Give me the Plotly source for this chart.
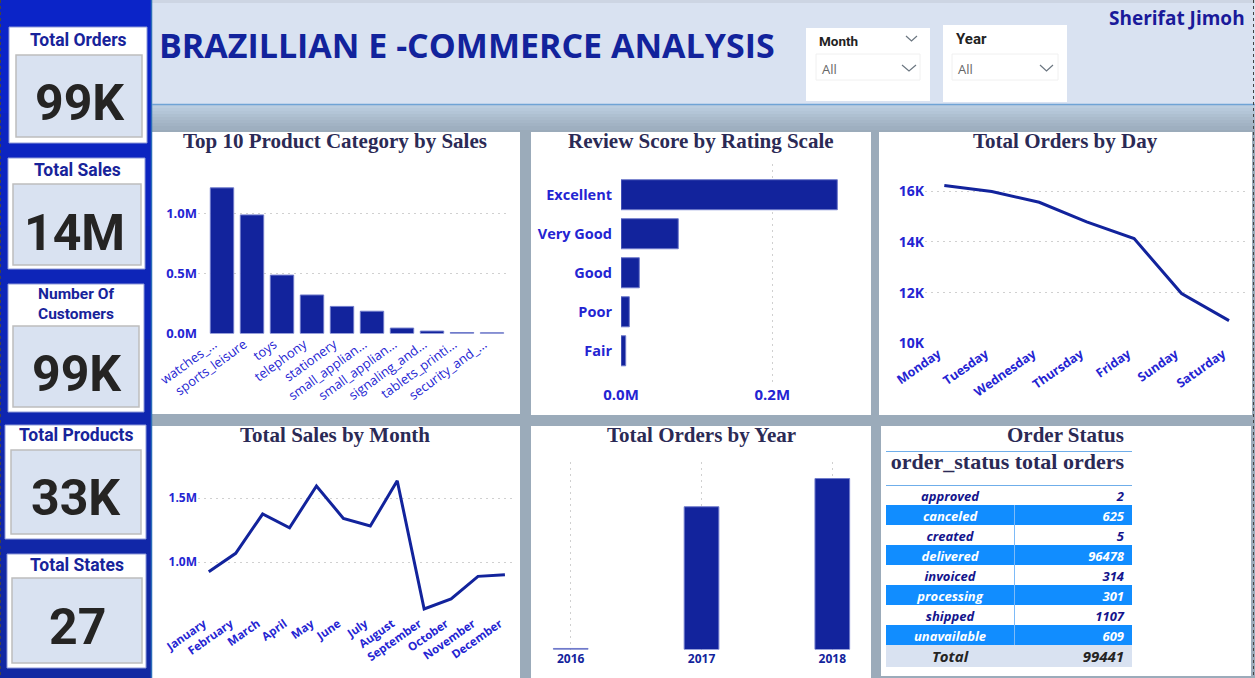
import plotly.graph_objects as go

W = 1255
H = 678

# data
kpi_titles = ["Total Orders", "Total Sales", "Number Of<br>Customers", "Total Products", "Total States"]
kpi_values = ["99K", "14M", "99K", "33K", "27"]

product_labels = ["watches_...", "sports_leisure", "toys", "telephony", "stationery", "small_applian...",
                  "small_applian...", "signaling_and...", "tablets_printi...", "security_and_..."]
product_sales = [1.21, 0.985, 0.485, 0.32, 0.225, 0.185, 0.045, 0.02, 0.008, 0.006]
product_ticks = [0, 0.5, 1.0]
product_tick_text = ["0.0M", "0.5M", "1.0M"]

rating_labels = ["Excellent", "Very Good", "Good", "Poor", "Fair"]
rating_scores = [0.286, 0.0757, 0.0242, 0.011, 0.0062]
rating_ticks = [0, 0.2]
rating_tick_text = ["0.0M", "0.2M"]

days = ["Monday", "Tuesday", "Wednesday", "Thursday", "Friday", "Sunday", "Saturday"]
day_orders = [16.22, 15.98, 15.56, 14.79, 14.13, 11.97, 10.90]
day_ticks = [10, 12, 14, 16]
day_tick_text = ["10K", "12K", "14K", "16K"]

months = ["January", "February", "March", "April", "May", "June", "July", "August",
          "September", "October", "November", "December"]
month_sales = [0.924, 1.068, 1.375, 1.268, 1.594, 1.341, 1.281, 1.635, 0.633, 0.711, 0.888, 0.901]
month_ticks = [1.0, 1.5]
month_tick_text = ["1.0M", "1.5M"]

years = ["2016", "2017", "2018"]
year_orders = [329, 45101, 54011]

status_names = ["approved", "canceled", "created", "delivered", "invoiced", "processing",
                "shipped", "unavailable"]
status_orders = [2, 625, 5, 96478, 314, 301, 1107, 609]
status_total = 99441

NAVY = "#12239C"
BAR_EDGE = "#6F7ACB"
TICK = "#2424D2"
TITLE = "#2B2A55"
PALE = "#D9E2F1"
CLEAR = "rgba(0,0,0,0)"
SANS = "Open Sans"
DIN = "Roboto"
SERIF = "Liberation Serif"


def X(px):
    return px / W


def Y(py):
    return 1 - py / H


shapes = []
notes = []


def rect(x0, y0, x1, y1, fill, line=None, width=1):
    shapes.append(dict(type="rect", xref="paper", yref="paper", x0=X(x0), x1=X(x1), y0=Y(y0), y1=Y(y1),
                       fillcolor=fill, line=dict(color=line or fill, width=width if line else 0), layer="below"))


def hline(x0, x1, y, color, width=1.5, dash="solid", layer="above"):
    shapes.append(dict(type="line", xref="paper", yref="paper", x0=X(x0), x1=X(x1), y0=Y(y), y1=Y(y),
                       line=dict(color=color, width=width, dash=dash), layer=layer))


def vline(x, y0, y1, color, width=1.5, dash="solid"):
    shapes.append(dict(type="line", xref="paper", yref="paper", x0=X(x), x1=X(x), y0=Y(y0), y1=Y(y1),
                       line=dict(color=color, width=width, dash=dash), layer="above"))


def chevron(x0, x1, y0, y1):
    path = f"M {X(x0)} {Y(y0)} L {X((x0 + x1) / 2)} {Y(y1)} L {X(x1)} {Y(y0)}"
    shapes.append(dict(type="path", xref="paper", yref="paper", path=path, line=dict(color="#6B7680", width=1.2)))


def text(x, y, s, size, color, family=SANS, bold=True, anchor="center", **kw):
    notes.append(dict(xref="paper", yref="paper", x=X(x), y=Y(y), text=s, showarrow=False, xanchor=anchor,
                      yanchor="middle", font=dict(family=family, size=size, color=color,
                                                  weight="bold" if bold else "normal"), **kw))


# page background, strips overlap so no seams show
rect(0, 0, W, H, "#9BABBA")
for i, c in enumerate(["#BBCDDF", "#B7C9DB", "#B3C5D7", "#AEC0D1", "#AABBCC", "#A6B7C8", "#A2B3C4", "#9EAFC0"]):
    rect(152, 105 + i * 3, W, 130, c)

# left band
for i, c in enumerate(["#0B24C8", "#0C24C0", "#0D25B8", "#0F26B0", "#1127A8", "#1228A2"]):
    rect(0, i * 113, 151, H, c)
vline(151.5, 0, H, "#2B6CB8", 1.5)

# header
rect(152, 0, W, 104, PALE)
rect(152, 0, W, 3, "#CDD5E3")
hline(152, W, 104.5, "#6FA3D5", 1.5)
text(157, 45, "BRAZILLIAN E -COMMERCE ANALYSIS", 34, NAVY, anchor="left")
text(1247, 18, "Sherifat Jimoh", 19, "#1A1A9A", anchor="right")

# slicers
rect(806, 28, 930, 101, "white")
rect(943, 25, 1067, 102, "white")
rect(816, 54, 920, 80, "white", "#F0F0F0")
rect(952, 54, 1058, 80, "white", "#F0F0F0")
text(817, 41, "Month", 13.5, "#222222", family=DIN, anchor="left")
text(954, 39, "Year", 15, "#222222", family=DIN, anchor="left")
text(820, 69, "All", 13, "#666666", bold=False, anchor="left")
text(956, 69, "All", 13, "#666666", bold=False, anchor="left")
chevron(906, 917, 36, 41)
chevron(902, 916, 65, 71)
chevron(1040, 1053, 65, 71)

# kpi cards: outer box, inner box, title y, value centre
cards = [
    ((9, 27, 147, 143), (16, 55, 142, 137), 40, 78, 103, 80),
    ((8, 158, 145, 269), (13, 184, 141, 265), 170, 77, 233, 74),
    ((8, 284, 144, 412), (13, 326, 139, 407), 304, 76, 374, 77),
    ((5, 425, 146, 539), (11, 450, 141, 534), 435, 76, 498, 76),
    ((7, 554, 146, 668), (12, 578, 142, 663), 565, 77, 627, 77),
]
for (outer, inner, ty, tx, vy, vx), title, value in zip(cards, kpi_titles, kpi_values):
    rect(*outer, "white", "#8E99D8")
    rect(*inner, PALE, "#BDBDBD", 1.5)
    text(tx, ty, title, 17.5 if "<br>" not in title else 15.5, "#17239A", family=DIN)
    text(vx, vy, value, 50, "#252423", family=DIN)

# chart panels
panels = [(152, 132, 520, 414), (531, 132, 871, 415), (879, 132, 1252, 415),
          (152, 426, 520, 678), (531, 426, 871, 678), (881, 426, 1251, 676)]
panel_titles = ["Top 10 Product Category by Sales", "Review Score by Rating Scale", "Total Orders by Day",
                "Total Sales by Month", "Total Orders by Year", "Order Status"]
title_x = [335, 701, 1065, 335, 701, 1065]
title_y = [141, 141, 141, 435, 435, 435]
for p, t, tx, ty in zip(panels, panel_titles, title_x, title_y):
    rect(*p, "white")
    text(tx, ty, t, 21, TITLE, family=SERIF)

fig = go.Figure()

bar_style = dict(color=NAVY, line=dict(color=BAR_EDGE, width=1))
line_style = dict(color=NAVY, width=3)

fig.add_trace(go.Bar(x=list(range(len(product_labels))), y=product_sales, marker=bar_style, xaxis="x", yaxis="y"))
fig.add_trace(go.Bar(x=rating_scores, y=rating_labels, orientation="h", marker=bar_style, width=0.77,
                     xaxis="x2", yaxis="y2"))
fig.add_trace(go.Scatter(x=days, y=day_orders, mode="lines", line=line_style, xaxis="x3", yaxis="y3"))
fig.add_trace(go.Scatter(x=months, y=month_sales, mode="lines", line=line_style, xaxis="x4", yaxis="y4"))
fig.add_trace(go.Bar(x=years, y=year_orders, marker=bar_style, width=0.265, xaxis="x5", yaxis="y5"))

# order status table. plotly puts cell text low in a short row, so the tables sit
# a little higher than the bands drawn behind them. total row is its own table for the bigger font
row_text = ["#14148C", "white"] * 4
for i in range(len(status_names)):
    if i % 2:
        rect(886, 485 + i * 20, 1132, 505 + i * 20, "#118DFF")
rect(886, 645, 1132, 667, PALE)
fig.add_trace(go.Table(
    domain=dict(x=[X(886), X(1132)], y=[Y(643), Y(444)]),
    columnwidth=[128, 118],
    header=dict(values=["order_status", "total\u00a0orders"], height=39, align=["center", "right"],
                fill=dict(color=CLEAR), line=dict(color=CLEAR, width=0),
                font=dict(family=SERIF, size=22, color=TITLE, weight="bold")),
    cells=dict(values=[status_names, status_orders], height=20, align=["center", "right"],
               fill=dict(color=CLEAR), line=dict(color=CLEAR, width=0),
               font=dict(family=SANS, size=13, color=[row_text, row_text], weight="bold", style="italic")),
))
fig.add_trace(go.Table(
    domain=dict(x=[X(886), X(1132)], y=[Y(665), Y(643)]),
    columnwidth=[128, 118],
    header=dict(values=["Total", str(status_total)], height=22, align=["center", "right"],
                fill=dict(color=CLEAR), line=dict(color=CLEAR, width=0),
                font=dict(family=SANS, size=15, color="#252423", weight="bold", style="italic")),
    cells=dict(values=[[], []]),
))
hline(886, 1132, 451.5, "#6FAEEA", 1.2)
hline(886, 1132, 485.5, "#6FAEEA", 1.2)
vline(1014.5, 505, 645, "#7DBBF8", 1)

# dashed page edges
vline(0.5, 0, H, "#444444", 1, "dot")
vline(1253.5, 0, H, "#444444", 1, "dot")

grid = dict(showgrid=True, gridcolor="#D0D0D0", griddash="2px,4px", gridwidth=1)
tick_bold = dict(family=SANS, size=12.5, color=TICK, weight="bold")
side_font = dict(family=SANS, size=14.5, color=TICK, weight="bold")
base = dict(showline=False, zeroline=False, ticks="", fixedrange=True, automargin=False)

layout_axes = dict(
    xaxis=dict(base, domain=[X(198), X(510)], range=[-0.8, 9.6], tickmode="array",
               tickvals=list(range(len(product_labels))), ticktext=product_labels, tickangle=-36,
               ticklabelshift=-8, tickfont=dict(family=SANS, size=13, color=TICK), showgrid=False, anchor="y"),
    yaxis=dict(base, **grid, domain=[Y(333.5), Y(177)], range=[0, 1.3], tickmode="array", tickvals=product_ticks,
               ticktext=product_tick_text, tickfont=dict(family=SANS, size=13, color=TICK, weight="bold"), anchor="x"),
    xaxis2=dict(base, **grid, domain=[X(621), X(860)], range=[0, 0.316], tickmode="array", tickvals=rating_ticks,
                ticktext=rating_tick_text, ticklabelstandoff=2,
                tickfont=dict(family=SANS, size=15, color=TICK, weight="bold"), anchor="y2"),
    yaxis2=dict(base, domain=[Y(382), Y(164)], range=[4.8, -0.787], tickfont=side_font,
                ticklabelstandoff=8, anchor="x2", showgrid=False),
    xaxis3=dict(base, domain=[X(925), X(1247)], range=[-0.407, 6.379], tickangle=-35, ticklabelshift=-6,
                tickfont=tick_bold, showgrid=False, anchor="y3"),
    yaxis3=dict(base, **grid, domain=[Y(343.5), Y(170)], range=[10, 16.83], tickmode="array", tickvals=day_ticks,
                ticktext=day_tick_text, tickfont=dict(family=SANS, size=14, color=TICK, weight="bold"), anchor="x3"),
    xaxis4=dict(base, domain=[X(198), X(513)], range=[-0.4, 11.3], tickangle=-35, ticklabelshift=-5,
                tickfont=dict(family=SANS, size=11.5, color=TICK, weight="bold"), showgrid=False, anchor="y4"),
    yaxis4=dict(base, **grid, domain=[Y(614), Y(470)], range=[0.594, 1.719], tickmode="array", tickvals=month_ticks,
                ticktext=month_tick_text, tickfont=dict(family=SANS, size=12, color=TICK, weight="bold"), anchor="x4"),
    xaxis5=dict(base, **grid, domain=[X(540), X(865)], range=[-0.235, 2.25],
                tickfont=dict(family=SANS, size=12, color=NAVY, weight="bold"), anchor="y5"),
    yaxis5=dict(base, domain=[Y(649.5), Y(461.5)], range=[0, 59400], showticklabels=False, showgrid=False, anchor="x5"),
)

fig.update_layout(
    width=W, height=H, margin=dict(l=0, r=0, t=0, b=0), showlegend=False,
    paper_bgcolor="#9BABBA", plot_bgcolor="rgba(0,0,0,0)", bargap=0.22,
    shapes=shapes, annotations=notes, **layout_axes,
)

fig.write_html("out.html", config=dict(displayModeBar=False),
               post_script="document.body.style.margin='0';document.documentElement.style.overflow='hidden';")
